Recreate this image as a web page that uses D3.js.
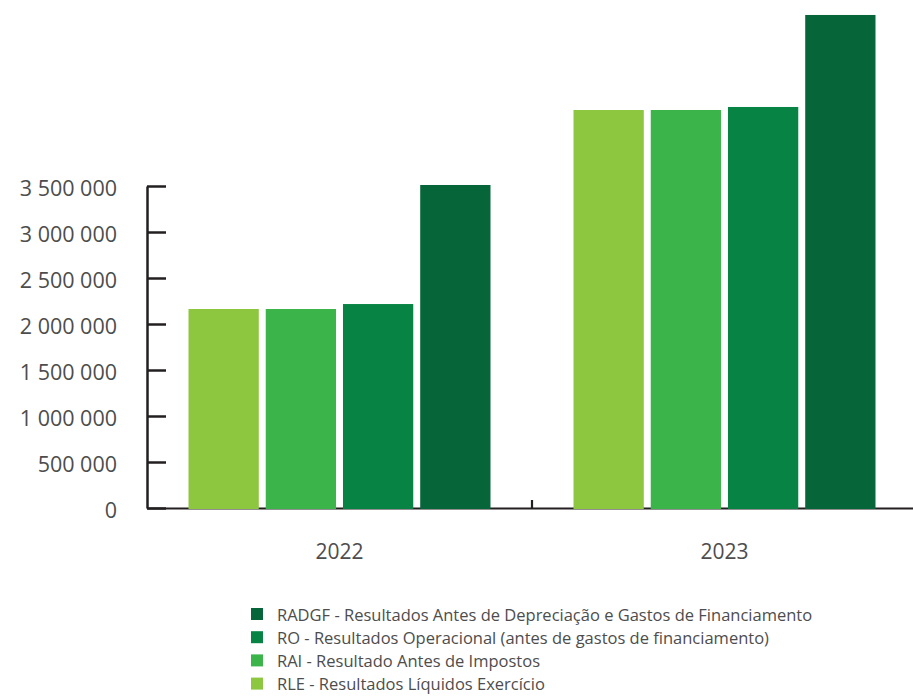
<!DOCTYPE html>
<html>
<head>
<meta charset="utf-8">
<script src="https://cdn.jsdelivr.net/npm/d3@7/dist/d3.min.js"></script>
<style>
  html, body { margin: 0; padding: 0; background: #fff; }
  svg { display: block; }
  text { font-family: "Open Sans", "Noto Sans", sans-serif; }
</style>
</head>
<body>
<svg id="chart" width="913" height="697"></svg>
<script>
// ---- Data ----
const years = ["2022", "2023"];
const seriesKeys = ["RLE", "RAI", "RO", "RADGF"];
const RLE   = [2163000, 4326000];
const RAI   = [2163000, 4326000];
const RO    = [2217000, 4359000];
const RADGF = [3511000, 5359000];
const yTicks = [0, 500000, 1000000, 1500000, 2000000, 2500000, 3000000, 3500000];
const colors = ["#8dc63f", "#3bb54a", "#078444", "#076639"];
const legendLabels = [
  "RADGF - Resultados Antes de Depreciação e Gastos de Financiamento",
  "RO - Resultados Operacional (antes de gastos de financiamento)",
  "RAI - Resultado Antes de Impostos",
  "RLE - Resultados Líquidos Exercício"
];
const legendKeys = ["RADGF", "RO", "RAI", "RLE"];

const valuesByKey = { RLE, RAI, RO, RADGF };
const rows = years.map((yr, i) => ({
  year: yr,
  values: seriesKeys.map(k => ({ key: k, value: valuesByKey[k][i] }))
}));

// ---- Layout ----
const svg = d3.select("#chart");
const axisX = 147, baseY = 508, topY = 186, rightX = 917;
const axisColor = "#231f20";
const textColor = "#4d4d4d";

const x0 = d3.scaleBand().domain(years).range([axisX, rightX]).padding(0);
const x1 = d3.scaleBand().domain(seriesKeys)
  .range([41.5, x0.bandwidth() - 41.5]).paddingInner(0.09);
const y = d3.scaleLinear().domain([0, 3500000]).range([baseY, topY]);
const color = d3.scaleOrdinal().domain(seriesKeys).range(colors);

const fmt = v => d3.format(",")(v).replace(/,/g, " ");

// X baseline axis
const xAxis = svg.append("g")
  .attr("transform", `translate(0,${baseY})`)
  .call(d3.axisBottom(x0).tickSize(0).tickPadding(36));
xAxis.select(".domain").attr("stroke", axisColor).attr("stroke-width", 2.2);
xAxis.selectAll("text")
  .attr("fill", textColor)
  .style("font-size", "21px")
  .style("font-family", '"Open Sans", sans-serif');

// divider tick between categories
svg.append("g").selectAll("line")
  .data(years.slice(1))
  .join("line")
  .attr("x1", d => x0(d)).attr("x2", d => x0(d))
  .attr("y1", baseY).attr("y2", baseY - 8)
  .attr("stroke", axisColor).attr("stroke-width", 2.2);

// Bars
const groups = svg.append("g").selectAll("g")
  .data(rows)
  .join("g")
  .attr("transform", d => `translate(${x0(d.year)},0)`);
groups.selectAll("rect")
  .data(d => d.values)
  .join("rect")
  .attr("x", d => x1(d.key))
  .attr("width", x1.bandwidth())
  .attr("y", d => y(d.value))
  .attr("height", d => y(0) - y(d.value) + 1)
  .attr("fill", d => color(d.key));

// Y axis
const yAxis = svg.append("g")
  .attr("transform", `translate(${axisX},0)`)
  .call(d3.axisLeft(y).tickValues(yTicks).tickFormat(fmt)
    .tickSizeInner(-19).tickSizeOuter(0).tickPadding(30));
yAxis.select(".domain").attr("stroke", axisColor).attr("stroke-width", 2.5);
yAxis.selectAll(".tick line").attr("stroke", axisColor).attr("stroke-width", 2.5);
yAxis.selectAll("text")
  .attr("fill", textColor)
  .attr("dy", "0.45em")
  .style("font-size", "21.5px")
  .style("font-family", '"Open Sans", sans-serif');

// Legend
const legend = svg.append("g").attr("transform", "translate(251,608)");
const li = legend.selectAll("g")
  .data(legendKeys)
  .join("g")
  .attr("transform", (d, i) => `translate(0,${i * 23.2})`);
li.append("rect")
  .attr("width", 12).attr("height", 12)
  .attr("fill", d => color(d));
li.append("text")
  .attr("x", 26).attr("y", 12.5)
  .attr("fill", textColor)
  .style("font-size", "16.5px")
  .text((d, i) => legendLabels[i]);
</script>
</body>
</html>
